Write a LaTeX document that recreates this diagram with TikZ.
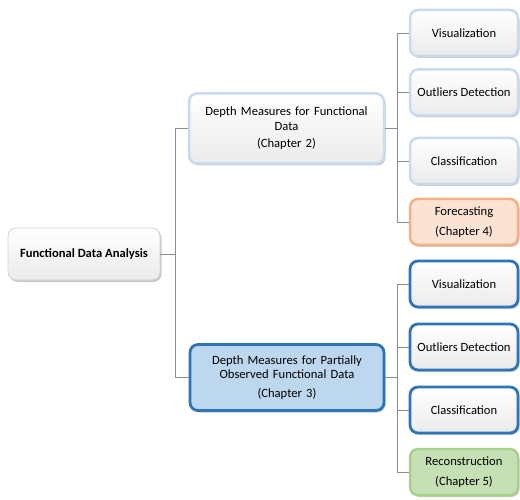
\documentclass[tikz,border=0pt]{standalone}
\usepackage{fontspec}
\setmainfont{Carlito}
\usetikzlibrary{shadows}
\definecolor{lblue}{HTML}{C9DAEE}
\definecolor{dblue}{HTML}{2E75B6}
\definecolor{bfill}{HTML}{BDD7EE}
\definecolor{ofill}{HTML}{FBE3D3}
\definecolor{oline}{HTML}{F4B183}
\definecolor{gfill}{HTML}{C5E0B4}
\definecolor{gline}{HTML}{A9D18E}
\definecolor{conn}{HTML}{8C8C8C}
\tikzset{
  base/.style={rounded corners=8pt, align=center, inner sep=2pt,
    font=\fontsize{12.6}{14.5}\selectfont,
    drop shadow={shadow xshift=1.5pt, shadow yshift=-2pt, opacity=0.3, fill=black!70}},
  whitegrad/.style={top color=white, middle color=white, bottom color=black!8},
  rootbox/.style={base, whitegrad, draw=black!18, line width=0.8pt, minimum width=152pt, minimum height=52pt},
  midlight/.style={base, whitegrad, draw=lblue, line width=2.5pt, minimum width=195pt, minimum height=70pt, text width=185pt},
  middark/.style={base, fill=bfill, draw=dblue, line width=2.8pt, minimum width=194pt, minimum height=66pt, text width=185pt},
  leaflight/.style={base, whitegrad, draw=lblue, line width=2.5pt, minimum width=108pt, minimum height=46pt},
  leafdark/.style={base, whitegrad, draw=dblue, line width=2.8pt, minimum width=108pt, minimum height=46pt},
  leaforange/.style={base, fill=ofill, draw=oline, line width=2.5pt, minimum width=108pt, minimum height=46pt},
  leafgreen/.style={base, fill=gfill, draw=gline, line width=2.5pt, minimum width=108pt, minimum height=46pt},
  conn/.style={draw=conn, line width=0.7pt}
}
\begin{document}
\begin{tikzpicture}[x=1pt,y=-1pt]
\useasboundingbox (0,0) rectangle (520,500);
% nodes
\node[rootbox] (root) at (84,254) {\textbf{Functional Data Analysis}};
\node[midlight] (m1) at (286.5,128.5) {Depth Measures for Functional\\Data\\[3pt](Chapter 2)};
\node[middark] (m2) at (287,377.5) {Depth Measures for Partially\\Observed Functional Data\\[4pt](Chapter 3)};
\node[leaflight] (a1) at (464,33) {Visualization};
\node[leaflight] (a2) at (464,92.5) {Outliers Detection};
\node[leaflight] (a3) at (464,161) {Classification};
\node[leaforange] (a4) at (464,222) {Forecasting\\[5pt](Chapter 4)};
\node[leafdark] (b1) at (464,284) {Visualization};
\node[leafdark] (b2) at (464,347) {Outliers Detection};
\node[leafdark] (b3) at (464,410) {Classification};
\node[leafgreen] (b4) at (464,472) {Reconstruction\\[5pt](Chapter 5)};
% junction coordinates
\coordinate (t0) at (175,254);
\coordinate (t1) at (175,128.5);
\coordinate (t2) at (175,377.5);
\coordinate (r1) at (397,128.5);
\coordinate (r2) at (397,377.5);
\coordinate (ra1) at (397,33);
\coordinate (ra2) at (397,92.5);
\coordinate (ra3) at (397,161);
\coordinate (ra4) at (397,222);
\coordinate (rb1) at (397,284);
\coordinate (rb2) at (397,347);
\coordinate (rb3) at (397,410);
\coordinate (rb4) at (397,472);
\draw[conn] (root.east) -- (t0);
\draw[conn] (t1) -- (t2);
\draw[conn] (t1) -- (m1.west);
\draw[conn] (t2) -- (m2.west);
\draw[conn] (m1.east) -- (r1);
\draw[conn] (m2.east) -- (r2);
\draw[conn] (ra1) -- (ra4);
\draw[conn] (rb1) -- (rb4);
\draw[conn] (ra1) -- (a1.west);
\draw[conn] (ra2) -- (a2.west);
\draw[conn] (ra3) -- (a3.west);
\draw[conn] (ra4) -- (a4.west);
\draw[conn] (rb1) -- (b1.west);
\draw[conn] (rb2) -- (b2.west);
\draw[conn] (rb3) -- (b3.west);
\draw[conn] (rb4) -- (b4.west);
\end{tikzpicture}
\end{document}
